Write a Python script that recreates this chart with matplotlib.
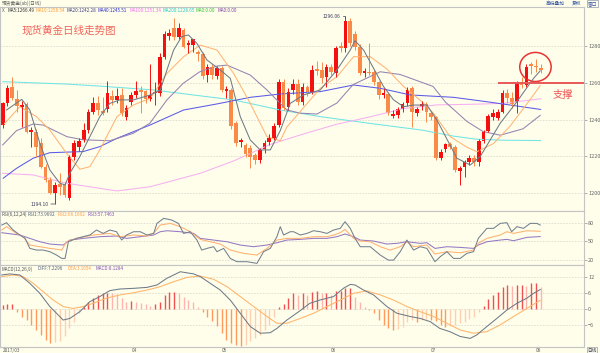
import numpy as np
import matplotlib
matplotlib.use("Agg")
import matplotlib.pyplot as plt
from matplotlib.patches import Ellipse

plt.rcParams['font.family'] = ['Noto Sans CJK SC', 'DejaVu Sans']

# spot gold daily candles, late Feb .. early Aug 2017
opens = [1237.1, 1248.8, 1257.5, 1251.0, 1247.0, 1248.3, 1233.0, 1233.4, 1227.1, 1214.4,
         1207.2, 1199.9, 1205.0, 1204.5, 1197.2, 1219.5, 1225.3, 1229.0, 1234.3, 1244.3,
         1248.8, 1244.5, 1245.6, 1252.8, 1250.7, 1253.4, 1241.6, 1249.7, 1253.4, 1256.1,
         1255.5, 1251.0, 1254.3, 1254.6, 1274.2, 1285.4, 1289.6, 1285.1, 1288.7, 1280.5,
         1280.5, 1276.5, 1275.5, 1264.2, 1268.8, 1263.7, 1267.9, 1255.5, 1256.1, 1238.0,
         1227.8, 1226.2, 1224.7, 1220.8, 1218.0, 1223.8, 1228.0, 1229.8, 1237.1, 1260.6,
         1247.0, 1256.1, 1259.3, 1249.7, 1257.9, 1255.2, 1267.3, 1267.0, 1263.3, 1268.8,
         1265.1, 1280.0, 1278.7, 1293.6, 1286.3, 1279.6, 1265.1, 1266.0, 1266.0, 1260.6,
         1253.4, 1253.9, 1242.0, 1242.5, 1245.7, 1248.8, 1257.0, 1243.8, 1246.7, 1248.5,
         1243.4, 1241.2, 1219.0, 1223.8, 1226.6, 1225.0, 1212.2, 1214.0, 1216.8, 1219.3,
         1216.8, 1228.4, 1234.0, 1241.2, 1240.7, 1244.3, 1254.6, 1252.0, 1249.7, 1260.0,
         1258.8, 1270.0, 1269.0, 1268.2]
highs = [1249.7, 1258.8, 1263.3, 1256.0, 1250.0, 1249.5, 1236.0, 1235.0, 1229.8, 1216.0,
         1209.0, 1206.3, 1210.8, 1206.0, 1221.0, 1228.9, 1230.0, 1238.0, 1246.0, 1252.5,
         1252.8, 1252.5, 1261.0, 1256.0, 1257.0, 1257.4, 1248.0, 1255.0, 1261.0, 1258.0,
         1256.0, 1270.0, 1260.6, 1276.0, 1288.0, 1289.0, 1295.0, 1292.3, 1290.0, 1283.0,
         1284.0, 1278.0, 1277.0, 1270.0, 1270.0, 1269.0, 1269.0, 1258.0, 1257.0, 1239.0,
         1230.0, 1227.0, 1226.0, 1222.0, 1224.5, 1229.0, 1232.0, 1238.0, 1262.0, 1262.0,
         1257.0, 1262.0, 1262.0, 1260.0, 1259.0, 1269.7, 1272.0, 1271.5, 1270.0, 1270.0,
         1280.0, 1282.0, 1296.1, 1295.0, 1288.0, 1281.0, 1268.0, 1281.4, 1267.0, 1261.0,
         1257.0, 1255.0, 1245.0, 1247.0, 1249.5, 1257.5, 1258.0, 1247.0, 1250.0, 1249.5,
         1244.5, 1242.0, 1224.0, 1227.5, 1228.0, 1226.0, 1215.0, 1218.0, 1221.0, 1221.0,
         1229.5, 1234.5, 1243.0, 1245.5, 1246.0, 1256.0, 1256.5, 1255.0, 1261.0, 1263.0,
         1270.0, 1271.5, 1273.0, 1270.0]
lows = [1235.3, 1247.5, 1250.5, 1244.0, 1236.0, 1232.5, 1225.3, 1219.9, 1213.5, 1206.3,
        1199.4, 1194.1, 1199.0, 1198.0, 1196.5, 1218.0, 1223.0, 1228.0, 1232.5, 1243.0,
        1242.5, 1242.5, 1244.0, 1248.0, 1249.0, 1242.0, 1240.0, 1248.0, 1252.0, 1243.4,
        1249.0, 1250.0, 1248.0, 1253.0, 1273.0, 1283.0, 1283.0, 1284.0, 1278.7, 1276.0,
        1277.0, 1272.0, 1262.0, 1260.6, 1262.0, 1262.0, 1255.0, 1252.0, 1235.0, 1225.5,
        1225.3, 1219.9, 1213.5, 1216.0, 1216.5, 1222.0, 1226.0, 1229.0, 1236.0, 1245.2,
        1245.0, 1254.0, 1248.0, 1248.0, 1253.0, 1254.0, 1264.0, 1260.0, 1257.9, 1264.0,
        1263.0, 1277.0, 1277.0, 1280.0, 1278.0, 1264.0, 1263.0, 1264.0, 1258.8, 1251.0,
        1252.0, 1242.5, 1241.0, 1241.0, 1244.0, 1247.5, 1236.0, 1242.0, 1245.0, 1238.9,
        1240.0, 1218.0, 1218.0, 1222.5, 1224.0, 1211.7, 1204.5, 1209.0, 1215.5, 1215.0,
        1215.0, 1227.0, 1233.0, 1240.0, 1239.5, 1243.5, 1249.0, 1246.5, 1243.4, 1257.0,
        1257.5, 1265.0, 1266.0, 1265.5]
closes = [1248.8, 1257.0, 1251.6, 1247.5, 1248.0, 1233.4, 1234.4, 1225.3, 1214.4, 1207.2,
          1199.9, 1204.5, 1203.5, 1199.0, 1219.9, 1227.1, 1228.4, 1234.3, 1244.3, 1248.8,
          1245.2, 1243.5, 1254.3, 1250.7, 1252.8, 1243.4, 1246.1, 1253.4, 1255.7, 1255.2,
          1251.0, 1253.4, 1255.2, 1274.2, 1286.3, 1286.9, 1285.1, 1289.6, 1279.6, 1281.4,
          1283.6, 1275.5, 1263.7, 1268.8, 1264.2, 1267.9, 1256.1, 1256.5, 1236.5, 1227.1,
          1228.8, 1221.3, 1219.9, 1218.0, 1223.5, 1227.5, 1230.2, 1236.5, 1260.6, 1246.1,
          1255.0, 1259.3, 1249.7, 1257.9, 1255.2, 1267.0, 1266.4, 1262.4, 1268.4, 1266.0,
          1278.7, 1278.7, 1293.6, 1281.4, 1279.6, 1265.5, 1266.4, 1265.1, 1260.6, 1253.4,
          1254.3, 1243.4, 1243.0, 1245.6, 1248.2, 1256.0, 1244.3, 1246.0, 1248.5, 1244.3,
          1241.2, 1219.0, 1222.6, 1226.6, 1225.0, 1212.6, 1213.5, 1216.8, 1219.3, 1217.0,
          1228.4, 1233.4, 1242.0, 1243.8, 1244.3, 1254.6, 1251.5, 1248.5, 1260.0, 1258.8,
          1268.8, 1269.0, 1268.4, 1267.0]

# moving averages as (candle index, value)
ma5 = [(0.8, 1245.2), (4.0, 1251.0), (5.7, 1245.2), (7.8, 1227.1), (9.9, 1212.6), (12.0, 1205.4),
       (13.1, 1204.5), (14.1, 1210.8), (16.2, 1219.9), (18.3, 1230.7), (20.4, 1241.6), (22.5, 1248.8),
       (24.6, 1250.7), (27.5, 1250.7), (31.0, 1253.4), (33.1, 1256.1), (34.5, 1267.0), (35.9, 1277.8),
       (37.6, 1285.1), (39.0, 1286.0), (40.8, 1281.4), (42.9, 1272.4), (45.7, 1267.0), (47.8, 1262.4),
       (49.9, 1241.6), (52.0, 1228.9), (54.1, 1223.5), (56.2, 1223.5), (58.3, 1234.0), (60.4, 1248.8),
       (63.2, 1253.4), (66.7, 1256.1), (70.2, 1267.0), (73.0, 1277.8), (74.0, 1282.9), (75.8, 1277.8),
       (77.9, 1267.9), (80.0, 1257.9), (82.1, 1250.7), (84.2, 1247.0), (86.3, 1247.9), (89.1, 1247.9),
       (91.2, 1239.8), (95.4, 1219.0), (98.2, 1215.3), (100.3, 1219.9), (104.5, 1238.0), (108.0, 1249.7),
       (111.5, 1262.4), (112.9, 1266.5)]
ma10 = [(0.1, 1237.1), (3.6, 1247.0), (7.1, 1241.6), (9.9, 1234.3), (13.4, 1221.7), (16.2, 1213.0),
        (18.3, 1214.4), (20.4, 1223.5), (24.0, 1241.6), (27.5, 1248.0), (31.0, 1251.6), (34.5, 1265.1),
        (38.0, 1274.2), (41.5, 1280.5), (45.0, 1277.8), (48.5, 1265.1), (52.0, 1248.8), (55.5, 1230.7),
        (58.3, 1228.5), (59.7, 1236.0), (63.2, 1246.5), (66.7, 1257.0), (70.2, 1263.3), (73.7, 1274.2),
        (77.2, 1274.2), (80.7, 1267.5), (84.2, 1258.0), (87.7, 1250.5), (90.5, 1243.4), (94.0, 1230.7),
        (97.5, 1225.0), (99.6, 1222.5), (103.1, 1227.0), (106.6, 1236.5), (111.5, 1253.4), (112.9, 1258.5)]
ma20 = [(0.0, 1226.2), (2.9, 1234.0), (6.4, 1237.6), (8.5, 1237.0), (13.5, 1230.7), (16.9, 1229.0),
        (22.5, 1228.5), (27.4, 1232.5), (30.9, 1238.0), (34.5, 1250.7), (37.9, 1259.7), (41.4, 1266.0),
        (45.0, 1269.1), (47.1, 1269.6), (52.0, 1264.2), (55.5, 1256.1), (58.3, 1248.8), (59.7, 1245.2),
        (62.5, 1243.5), (66.0, 1243.0), (70.2, 1249.0), (73.6, 1259.0), (79.3, 1266.0), (83.5, 1264.5),
        (90.4, 1258.0), (93.0, 1249.5), (97.5, 1239.0), (100.9, 1233.5), (104.5, 1231.5), (109.3, 1235.0),
        (112.9, 1242.3)]
ma40 = [(0.1, 1208.1), (2.9, 1213.5), (6.4, 1219.0), (9.9, 1222.0), (16.9, 1222.6), (20.4, 1225.3),
        (24.0, 1229.8), (31.0, 1237.1), (38.0, 1245.2), (45.0, 1248.5), (52.0, 1252.1), (58.3, 1253.9),
        (66.7, 1255.2), (73.7, 1258.8), (79.3, 1257.0), (85.6, 1253.4), (94.7, 1252.1), (101.7, 1249.7),
        (106.6, 1247.9), (113.0, 1245.5)]
ma100 = [(0.0, 1210.8), (6.4, 1209.9), (13.4, 1205.4), (24.0, 1201.2), (31.0, 1203.5), (41.5, 1210.8),
         (48.5, 1217.5), (56.2, 1226.5), (63.2, 1232.2), (70.2, 1237.5), (77.2, 1241.5), (84.2, 1246.0),
         (91.2, 1248.0), (98.2, 1248.3), (105.2, 1248.8), (113.0, 1251.3)]
ma200 = [(0.0, 1260.6), (13.4, 1259.3), (20.4, 1258.2), (31.7, 1256.1), (41.5, 1252.9), (48.5, 1250.7),
         (58.3, 1245.2), (66.7, 1241.6), (77.2, 1237.9), (88.0, 1234.3), (94.7, 1231.0), (99.6, 1229.3),
         (105.0, 1228.8), (113.0, 1228.6)]

rsi1 = [(-0.2, 76.2), (0.8, 80.0), (2.2, 68.2), (3.6, 60.2), (4.7, 54.8), (5.7, 38.7), (7.1, 36.0),
        (8.5, 36.0), (9.9, 33.4), (11.3, 28.0), (12.4, 22.6), (13.1, 22.6), (13.8, 49.4), (15.5, 54.8),
        (18.3, 60.2), (19.7, 68.2), (21.1, 62.8), (22.5, 68.2), (23.9, 65.5), (25.0, 52.1), (26.0, 60.2),
        (27.5, 65.5), (28.9, 65.5), (30.3, 60.2), (31.7, 62.8), (32.4, 78.9), (33.8, 87.0), (35.5, 84.3),
        (36.9, 78.9), (38.0, 62.8), (39.4, 65.5), (40.8, 52.1), (41.8, 36.0), (42.9, 38.7), (44.3, 41.4),
        (45.0, 33.4), (46.4, 38.7), (47.8, 22.6), (49.2, 17.3), (51.3, 17.3), (53.4, 14.6), (54.8, 33.4),
        (56.2, 38.7), (57.6, 57.5), (58.3, 73.6), (59.0, 60.2), (60.4, 65.5), (61.1, 65.5), (62.5, 60.2),
        (63.9, 62.8), (65.3, 67.1), (66.7, 65.5), (68.1, 62.8), (69.5, 68.2), (70.9, 70.9), (71.9, 81.6),
        (73.0, 70.9), (74.0, 54.8), (75.1, 41.4), (77.2, 41.4), (79.3, 28.0), (81.0, 19.9), (82.1, 19.9),
        (83.5, 33.4), (84.9, 52.1), (86.3, 36.0), (87.7, 41.4), (89.1, 38.7), (90.8, 17.3), (91.9, 25.3),
        (93.3, 33.4), (94.7, 22.6), (96.1, 22.6), (97.5, 30.7), (98.9, 33.4), (99.9, 54.8), (101.7, 70.9),
        (103.1, 70.9), (104.5, 78.9), (105.9, 80.0), (106.9, 65.5), (108.0, 73.6), (109.4, 70.9),
        (110.8, 78.9), (112.2, 78.9), (112.9, 76.2)]
rsi2 = [(-0.2, 68.2), (0.8, 73.6), (2.9, 62.8), (4.3, 57.5), (5.7, 44.1), (7.8, 41.4), (9.9, 38.7),
        (12.4, 36.0), (13.4, 49.4), (15.5, 54.8), (19.0, 60.2), (22.5, 62.8), (24.6, 57.5), (27.5, 60.2),
        (30.3, 58.6), (31.7, 62.8), (33.1, 76.2), (35.2, 78.9), (37.3, 73.6), (39.4, 65.5), (41.5, 53.2),
        (43.6, 49.4), (45.7, 45.7), (47.8, 36.0), (50.6, 30.7), (53.4, 28.0), (55.5, 38.7), (57.6, 52.1),
        (59.7, 54.8), (62.5, 54.8), (65.3, 57.5), (68.1, 57.5), (69.5, 60.2), (70.9, 63.9), (71.9, 69.3),
        (73.7, 54.8), (75.1, 50.5), (77.2, 49.4), (79.3, 41.4), (81.4, 36.0), (83.5, 41.4), (84.9, 49.4),
        (86.3, 41.4), (89.1, 44.1), (90.8, 29.6), (93.3, 33.4), (96.1, 31.7), (98.9, 36.0), (99.9, 46.8),
        (101.7, 54.8), (104.5, 60.2), (105.9, 65.5), (107.3, 62.8), (110.1, 67.1), (112.9, 66.2)]
rsi3 = [(-0.2, 63.9), (3.6, 60.2), (5.7, 54.8), (7.8, 49.4), (9.9, 45.7), (12.7, 44.1), (14.1, 52.1),
        (16.9, 54.8), (20.4, 57.5), (23.9, 58.6), (26.0, 54.8), (28.9, 57.5), (31.7, 60.2), (33.1, 65.5),
        (34.5, 67.1), (37.3, 65.5), (40.1, 62.8), (41.5, 54.8), (44.3, 52.1), (47.1, 49.4), (49.9, 44.1),
        (52.7, 41.4), (55.5, 44.1), (57.6, 47.8), (59.7, 52.1), (62.5, 53.2), (65.3, 54.8), (68.1, 54.8),
        (70.2, 57.5), (71.9, 61.8), (73.7, 57.5), (75.1, 52.1), (77.9, 50.5), (80.7, 45.7), (82.8, 46.8),
        (84.9, 49.4), (87.7, 46.8), (89.1, 47.8), (90.8, 38.7), (93.3, 41.4), (96.1, 40.3), (98.9, 38.7),
        (99.9, 44.1), (101.7, 49.4), (104.5, 52.1), (105.9, 53.2), (107.3, 51.0), (110.1, 56.4),
        (112.9, 57.7)]

diff = [(-0.2, 12.6), (1.5, 13.0), (3.6, 12.6), (5.7, 9.5), (7.8, 5.8), (9.9, 0.9), (12.7, -4.1),
        (14.1, -3.5), (16.2, -1.0), (18.3, 2.7), (20.4, 4.6), (22.5, 6.8), (24.6, 7.4), (27.5, 7.65),
        (30.3, 8.0), (32.4, 8.9), (34.5, 11.4), (37.3, 13.8), (40.1, 13.0), (41.5, 12.0), (43.6, 9.5),
        (45.7, 7.0), (47.8, 3.3), (49.9, -1.6), (52.0, -6.5), (54.1, -9.0), (56.2, -8.8), (57.6, -7.2),
        (59.7, -4.1), (62.5, -0.6), (64.5, 2.1), (66.6, 3.3), (69.5, 4.6), (71.6, 7.7), (73.0, 9.1),
        (74.0, 8.9), (75.8, 7.0), (77.9, 5.2), (80.7, 0.9), (82.8, -1.6), (85.6, -2.8), (87.7, -3.5),
        (89.8, -4.7), (91.8, -7.2), (93.9, -8.4), (96.1, -10.2), (98.2, -10.9), (99.6, -9.6),
        (101.7, -6.5), (103.8, -3.5), (105.9, -0.4), (108.0, 2.1), (110.1, 4.0), (111.5, 5.8),
        (112.9, 7.2)]
dea = [(-0.2, 12.0), (2.2, 12.6), (4.3, 12.0), (6.4, 9.5), (8.5, 6.4), (10.6, 3.3), (12.7, 0.9),
       (14.8, 0.2), (16.9, 0.9), (19.0, 2.1), (21.8, 4.0), (24.6, 5.2), (27.5, 6.0), (31.0, 7.3),
       (33.1, 8.3), (35.9, 10.1), (38.7, 11.7), (41.5, 12.2), (44.3, 11.0), (47.1, 8.3), (49.9, 4.6),
       (52.7, 0.9), (55.5, -2.8), (57.6, -5.3), (59.7, -5.3), (62.5, -3.5), (65.3, -1.6), (68.1, 0.9),
       (70.9, 3.3), (73.7, 5.8), (76.5, 6.7), (79.3, 5.2), (82.1, 3.3), (84.9, 0.9), (87.7, -1.0),
       (90.5, -2.8), (93.3, -5.3), (96.1, -7.8), (98.9, -9.0), (101.7, -8.4), (104.5, -5.9),
       (107.3, -2.8), (110.1, 0.2), (112.9, 3.2)]
macd_bar = [1.5, 1.7, 2.0, -1.0, -2.8, -4.0, -6.0, -7.8, -9.6, -11.4,
            -12.6, -12.4, -12.0, -10.2, -7.2, -4.7, -1.6, 0.9, 2.7, 4.0,
            5.2, 5.8, 6.0, 5.8, 5.6, 4.0, 2.7, 3.0, 2.7, 2.3,
            2.0, 1.1, 2.0, 2.7, 5.2, 6.4, 6.4, 6.0, 4.6, 3.3,
            2.7, 0.6, -1.0, -2.8, -4.6, -6.4, -8.9, -11.4, -12.6, -13.2,
            -13.6, -13.2, -12.0, -10.7, -9.5, -7.7, -5.8, -2.8, 0.9, 2.0,
            4.0, 5.8, 5.2, 5.8, 5.2, 6.4, 6.8, 6.0, 6.0, 5.2,
            6.8, 6.8, 7.6, 7.6, 4.6, 2.7, 0.6, -0.4, -1.6, -4.1,
            -5.9, -7.2, -7.8, -7.5, -6.5, -4.7, -4.1, -4.7, -4.1, -3.8,
            -4.1, -4.3, -5.9, -6.5, -6.3, -5.9, -5.3, -4.7, -3.8, -2.8,
            -1.0, 1.1, 3.6, 5.2, 6.4, 8.3, 8.9, 8.5, 8.9, 8.9,
            8.5, 9.5, 9.5, 8.1]

price_ticks = [1200, 1220, 1240, 1260, 1280]
rsi_ticks = [20, 50, 80]
macd_ticks = [-6, 0, 6, 12]
month_pos = [0, 27, 46, 69, 90, 112]
month_labels = ['2017/03', '04', '05', '06', '07', '08']

ma_legend = [('MA5:1266.49', '#303030'), ('MA10:1258.54', '#ff9a30'), ('MA20:1242.28', '#404080'),
             ('MA40:1245.51', '#2a2ad0'), ('MA100:1251.34', '#f070f0'), ('MA200:1228.65', '#20c8c8'),
             ('MA0:0.00', '#30c030'), ('MA0:0.00', '#8040a0')]
rsi_legend = [('RSI(6,12,24)', '#505050'), ('RSI1:73.9692', '#506070'), ('RSI2:66.1692', '#ff9a40'),
              ('RSI3:57.7463', '#8050b0')]
macd_legend = [('MACD(12,26,9)', '#505050'), ('DIFF:7.2296', '#506070'), ('DEA:3.1654', '#ff9a40'),
               ('MACD:8.1284', '#8050b0')]

BG = '#fffeeb'
UP = '#f41010'
DN = '#fa8a48'
W, H = 600, 353


def fx(px):
    return px / W


def fy(py):
    return 1 - py / H


def style(ax, ticks):
    ax.set_facecolor(BG)
    for s in ax.spines.values():
        s.set_color('#c4c4c4')
        s.set_linewidth(0.8)
    ax.set_xticks([])
    ax.yaxis.tick_right()
    ax.set_yticks(ticks)
    ax.tick_params(axis='y', length=2, width=0.5, color='#909090', labelsize=4,
                   labelcolor='#666666', pad=1)
    ax.grid(axis='y', color='#dcdcd0', lw=0.6, ls=(0, (2, 1.5)))
    ax.set_axisbelow(True)


def line(ax, pts, color, lw=0.75):
    xs, ys = zip(*pts)
    ax.plot(xs, ys, color=color, lw=lw)


fig = plt.figure(figsize=(6, 3.53), dpi=100, facecolor=BG)
xlim = (-0.57, 122.1)

# ---- price panel ----
ax1 = fig.add_axes([0, fy(211), fx(584), (211 - 7) / H])
style(ax1, price_ticks)
ax1.set_xlim(*xlim)
ax1.set_ylim(1190.3, 1301.2)

o = np.array(opens)
c = np.array(closes)
x = np.arange(len(o))
cols = np.where(c >= o, UP, DN)

line(ax1, ma200, '#70e4e4')
line(ax1, ma100, '#f6b0f0')
line(ax1, ma40, '#5a5ae6')
line(ax1, ma20, '#9484b0')
line(ax1, ma10, '#ffb474')
ax1.vlines(x, lows, highs, colors=cols, lw=0.7)
ax1.bar(x, np.maximum(np.abs(c - o), 0.35), bottom=np.minimum(o, c), width=0.78,
        color=cols, linewidth=0)
line(ax1, ma5, '#6e7a84')

ax1.annotate('1296.06', xy=(72, highs[72]), xytext=(-3.5, 0), textcoords='offset points',
             ha='right', va='center', fontsize=3.6, color='#404060',
             arrowprops=dict(arrowstyle='-', color='#404060', lw=0.5, shrinkA=0, shrinkB=0))
ax1.annotate('1194.10', xy=(11, lows[11]), xytext=(-5, 0), textcoords='offset points',
             ha='right', va='center', fontsize=3.6, color='#404060',
             arrowprops=dict(arrowstyle='-', color='#404060', lw=0.5, shrinkA=0, shrinkB=0))

# support line + circle
ax1.plot([104.3, 121.8], [1259.8, 1259.8], color='#e85858', lw=1.4)
ax1.add_patch(Ellipse((111.9, 1268.6), 6.6, 15.8, fill=False, ec='#e83434', lw=1.1))

fig.text(fx(22), fy(30), '现货黄金日线走势图', fontsize=7.6, color='#f0645a', va='center')
fig.text(fx(553), fy(95), '支撑', fontsize=7.4, color='#ee5555', va='center')

# top bar
fig.text(fx(2), fy(3), '现货黄金(ab)(日线)', fontsize=3.4, color='#606060', va='center')
fig.text(fx(546), fy(3.5), '高低叠加', fontsize=3.4, color='#3050a0', va='center')
fig.text(fx(572), fy(3.5), '复权', fontsize=3.4, color='#3050a0', va='center')
fig.text(fx(588), fy(3.5), '窗口', fontsize=3.4, color='#3050a0', va='center',
         bbox=dict(boxstyle='square,pad=0.15', fc=BG, ec='#7080a0', lw=0.4))

ma_x = [7, 36, 66.5, 98, 130, 162.5, 196, 217]
fig.text(fx(1.5), fy(10.5), 'X', fontsize=3.4, color='#606060', va='center')
for (t, col), px in zip(ma_legend, ma_x):
    fig.text(fx(px), fy(10.5), t, fontsize=3.3, color=col, va='center')

# ---- RSI panel ----
ax2 = fig.add_axes([0, fy(265), fx(584), 54 / H])
style(ax2, rsi_ticks)
ax2.set_xlim(*xlim)
ax2.set_ylim(12, 98.8)
line(ax2, rsi3, '#9478c4')
line(ax2, rsi2, '#ffb070')
line(ax2, rsi1, '#72808e')
for (t, col), px in zip(rsi_legend, [1, 28, 57, 87]):
    fig.text(fx(px), fy(214.5), t, fontsize=3.3, color=col, va='center')

# ---- MACD panel ----
ax3 = fig.add_axes([0, fy(347), fx(584), 82 / H])
style(ax3, macd_ticks)
ax3.set_xlim(*xlim)
ax3.set_ylim(-14.1, 16.3)
mb = np.array(macd_bar)
prev = np.r_[mb[0], mb[:-1]]
bar_cols = np.where(mb >= 0,
                    np.where(mb >= prev, '#f25050', '#ffb4b0'),
                    np.where(mb <= prev, '#ff9a5c', '#ffd0b0'))
ax3.vlines(np.arange(len(mb)), 0, mb, colors=bar_cols, lw=1.0)
line(ax3, dea, '#ffb468')
line(ax3, diff, '#6e7a88')
for (t, col), px in zip(macd_legend, [1, 38, 68, 96]):
    fig.text(fx(px), fy(269), t, fontsize=3.3, color=col, va='center')

ax3.set_xticks(month_pos)
ax3.set_xticklabels(month_labels)
ax3.tick_params(axis='x', length=0, labelsize=3.4, labelcolor='#606060', pad=0.8)
for lbl in ax3.get_xticklabels():
    lbl.set_ha('left')

fig.text(fx(592), fy(350), '日线', fontsize=3.3, color='#404040', ha='center', va='center',
         bbox=dict(boxstyle='square,pad=0.15', fc='#f4f4f0', ec='#8a8a8a', lw=0.4))

fig.savefig('out.png', dpi=100, facecolor=BG)
